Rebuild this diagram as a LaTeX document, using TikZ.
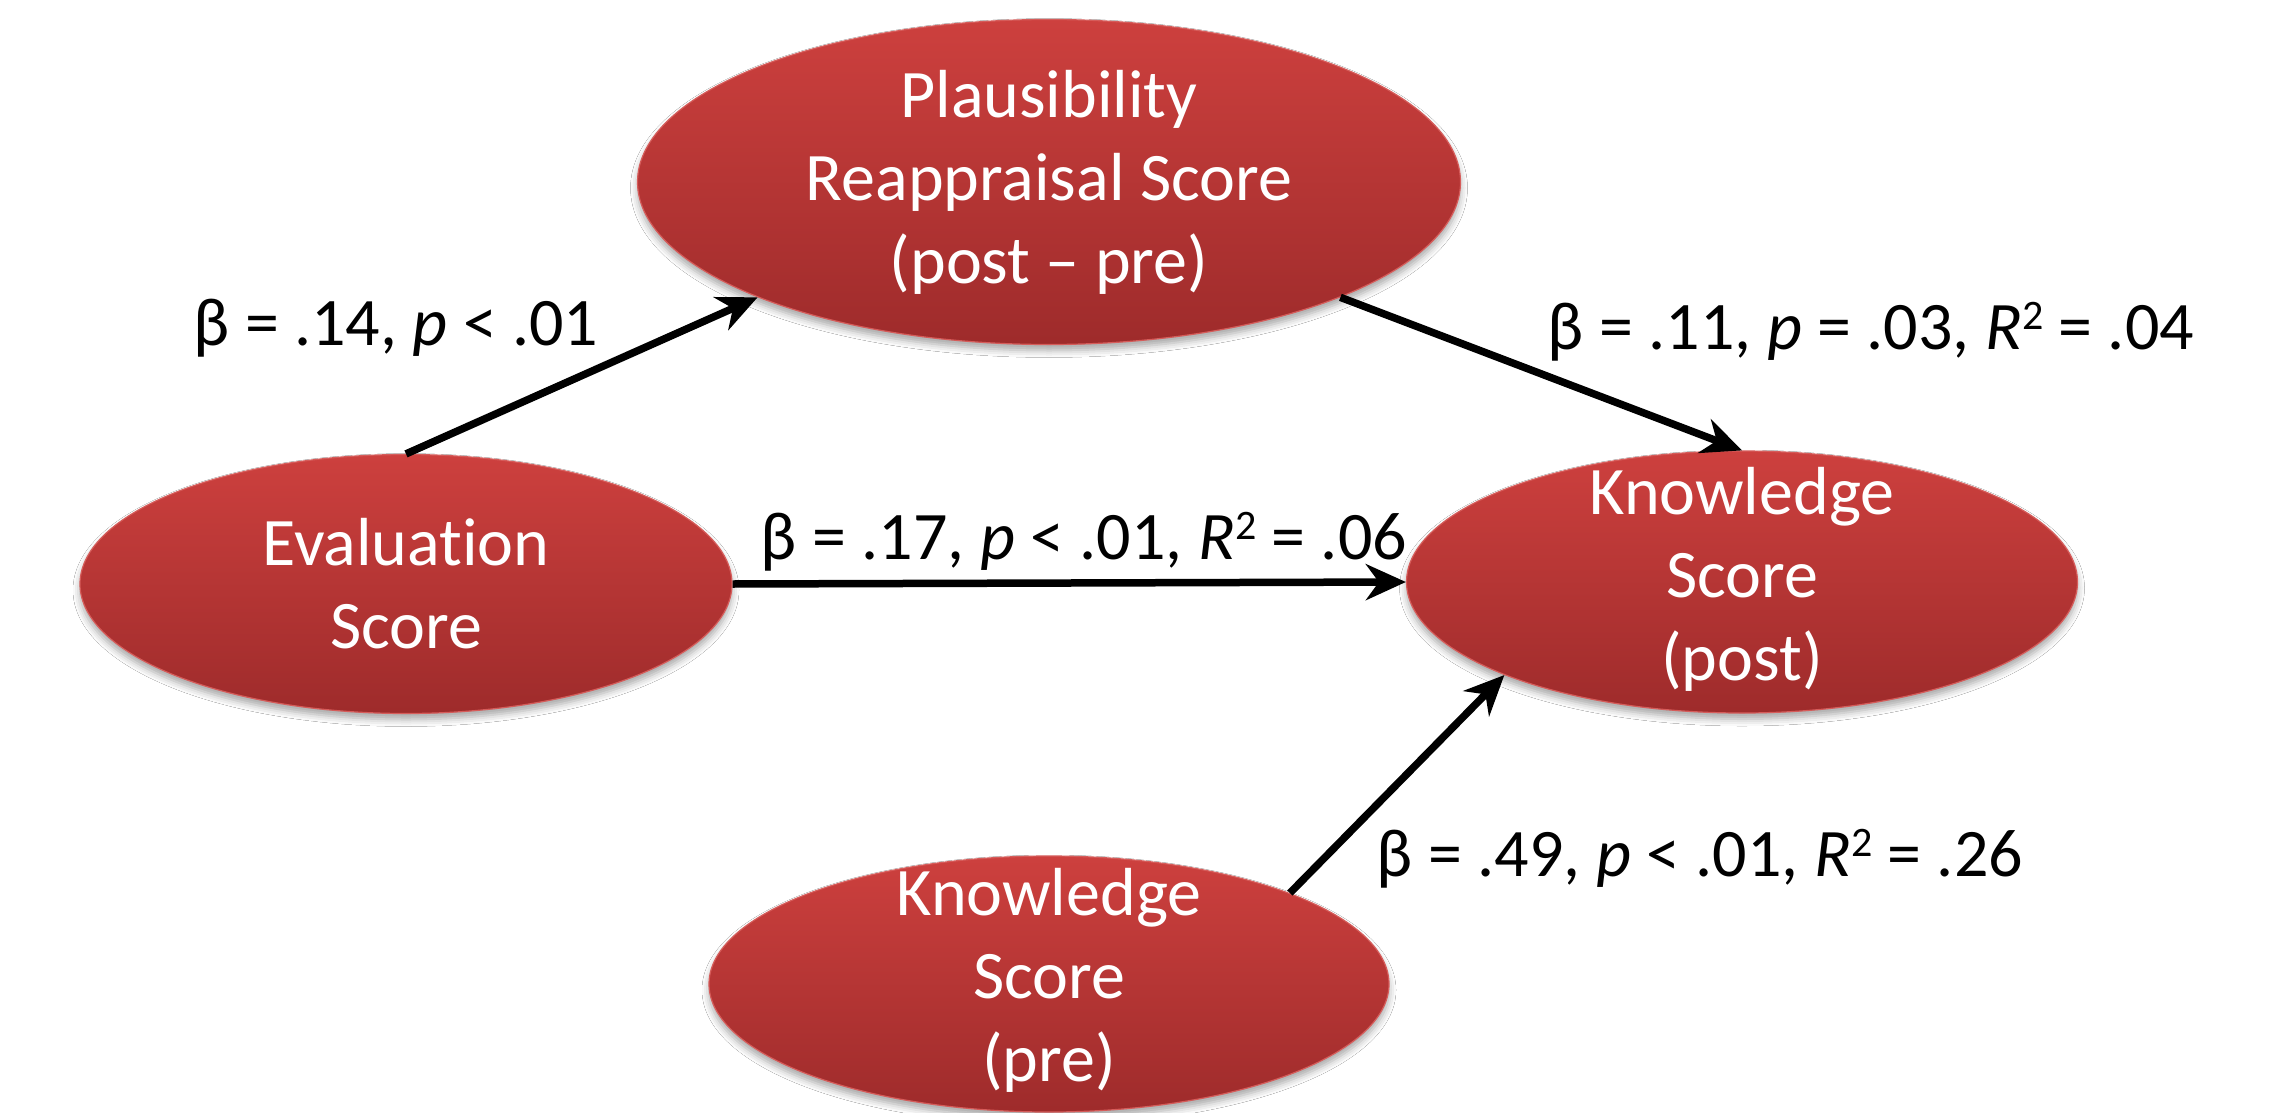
\documentclass[tikz,border=0pt]{standalone}
\usepackage{fontspec}
\setmainfont[Ligatures=NoCommon,RawFeature=-liga]{Carlito}
\usetikzlibrary{shapes.geometric,arrows.meta,shadows.blur}
\definecolor{redtop}{RGB}{205,64,62}
\definecolor{redbot}{RGB}{158,43,43}
\definecolor{redrim}{RGB}{214,92,90}
\newcommand{\sqtwo}{\raisebox{0.30em}{\fontsize{42}{42}\selectfont 2}}
\tikzset{
  oval/.style={ellipse, inner sep=0pt, top color=redtop, bottom color=redbot,
    draw=redrim, line width=1.2pt,
    blur shadow={shadow xshift=0pt, shadow yshift=-6pt, shadow blur radius=7pt, shadow opacity=35}},
  ovaltext/.style={text=white, align=center, inner sep=0pt, font=\fontsize{68}{83}\selectfont},
  lbl/.style={text=black, inner sep=0pt, font=\fontsize{68}{80}\selectfont},
  conn/.style={line width=7.5pt, -{Stealth[length=40pt,width=36pt,inset=13pt]}}
}
\begin{document}
\begin{tikzpicture}[x=1pt,y=-1pt]
\useasboundingbox (0,0) rectangle (2283,1113);
\fill[white] (0,0) rectangle (2283,1113);
\node[oval, minimum width=823pt, minimum height=325pt] (plaus) at (1049,182) {};
\node[oval, minimum width=652pt, minimum height=259pt] (eval) at (406,584) {};
\node[oval, minimum width=671pt, minimum height=262pt] (kpost) at (1742,582) {};
\node[oval, minimum width=680pt, minimum height=256pt] (kpre) at (1049,984) {};

\node[ovaltext] (plaustxt) at (plaus.center) {Plausibility\\Reappraisal Score\\(post – pre)};
\node[ovaltext] (evaltxt) at (eval.center) {Evaluat\kern0pt ion\\Score};
\node[ovaltext] (kposttxt) at ([yshift=3pt]kpost.center) {Knowledge\\Score\\(post)};
\node[ovaltext] (kpretxt) at ([yshift=4pt]kpre.center) {Knowledge\\Score\\(pre)};

\draw[conn] (eval.north) -- (plaus.south west);
\draw[conn] (plaus.south east) -- (kpost.north);
\draw[conn] (eval.east) -- (kpost.west);
\draw[conn] (kpre.north east) -- (kpost.south west);

\node[lbl] (lab1) at (396,328) {β = .14, \textit{p} < .01};
\node[lbl] (lab2) at (1871,332) {β = .11, \textit{p} = .03, \textit{R}\sqtwo\ = .04};
\node[lbl] (lab3) at (1084,542) {β = .17, \textit{p} < .01, \textit{R}\sqtwo\ = .06};
\node[lbl] (lab4) at (1700,859) {β = .49, \textit{p} < .01, \textit{R}\sqtwo\ = .26};
\end{tikzpicture}
\end{document}
